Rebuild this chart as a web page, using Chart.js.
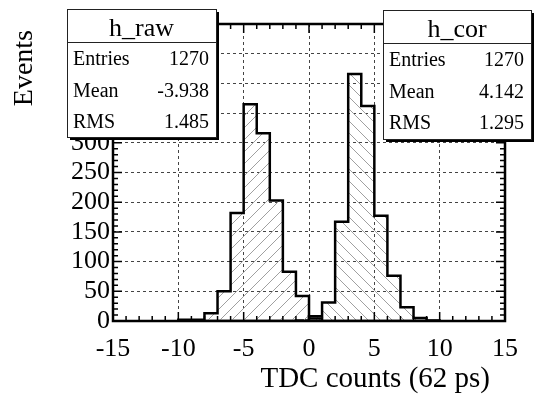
<!DOCTYPE html>
<html>
<head>
<meta charset="utf-8">
<script src="https://cdn.jsdelivr.net/npm/chart.js@4.4.0/dist/chart.umd.min.js"></script>
<style>
  html, body { margin: 0; padding: 0; background: #fff; }
  #c { display: block; }
</style>
</head>
<body>
<canvas id="c" width="534" height="402"></canvas>
<script>
// histogram bins: edges in TDC counts, one more edge than counts
const binEdges = [-10, -9, -8, -7, -6, -5, -4, -3, -2, -1, 0, 1, 2, 3, 4, 5, 6, 7, 8, 9, 10];
const rawCounts = [2, 2, 13, 50, 182, 365, 316, 203, 83, 42, 4, 0, 0, 0, 0, 0, 0, 0, 0, 0];
const corCounts = [0, 0, 0, 0, 0, 0, 0, 0, 0, 1, 8, 31, 167, 416, 362, 177, 76, 23, 5, 1];

const xTicks = [-15, -10, -5, 0, 5, 10, 15];
const yTicks = [0, 50, 100, 150, 200, 250, 300, 350, 400, 450, 500];

// stat boxes
const statLabels = ["Entries", "Mean", "RMS"];
const rawStats = ["1270", "-3.938", "1.485"];
const corStats = ["1270", "4.142", "1.295"];

const SERIF = "'Liberation Serif', 'DejaVu Serif', serif";

const canvas = document.getElementById("c");
const ctx = canvas.getContext("2d");

// outline of a histogram: two points per bin, closed down to zero
function steps(counts) {
  const pts = [{ x: binEdges[0], y: 0 }];
  counts.forEach((c, i) => {
    pts.push({ x: binEdges[i], y: c }, { x: binEdges[i + 1], y: c });
  });
  pts.push({ x: binEdges[binEdges.length - 1], y: 0 });
  return pts;
}

// ROOT-like diagonal hatch
function hatch(up) {
  const s = 12;
  const p = document.createElement("canvas");
  p.width = s; p.height = s;
  const g = p.getContext("2d");
  g.strokeStyle = "#a0a0a0";
  g.lineWidth = 1;
  g.beginPath();
  if (up) {
    g.moveTo(0, s); g.lineTo(s, 0);
    g.moveTo(-1, 1); g.lineTo(1, -1);
    g.moveTo(s - 1, s + 1); g.lineTo(s + 1, s - 1);
  } else {
    g.moveTo(0, 0); g.lineTo(s, s);
    g.moveTo(-1, s - 1); g.lineTo(1, s + 1);
    g.moveTo(s - 1, -1); g.lineTo(s + 1, 1);
  }
  g.stroke();
  return ctx.createPattern(p, "repeat");
}

function statBox(c, x, y, w, h, divY, title, values) {
  c.save();
  c.fillStyle = "#000";
  c.fillRect(x + 3, y + 3, w, h);
  c.fillStyle = "#fff";
  c.fillRect(x, y, w, h);
  c.strokeStyle = "#222";
  c.lineWidth = 1;
  c.strokeRect(x + 0.5, y + 0.5, w, h);
  c.beginPath();
  c.moveTo(x, divY + 0.5); c.lineTo(x + w, divY + 0.5);
  c.stroke();
  c.fillStyle = "#000";
  c.font = "26px " + SERIF;
  c.textAlign = "center";
  c.textBaseline = "alphabetic";
  c.fillText(title, x + w / 2, y + 27);
  c.font = "20px " + SERIF;
  const rows = [y + 56, y + 87.5, y + 119];
  statLabels.forEach((lab, i) => {
    c.textAlign = "left";
    c.fillText(lab, x + 6, rows[i]);
    c.textAlign = "right";
    c.fillText(values[i], x + w - 7, rows[i]);
  });
  c.restore();
}

const rootFrame = {
  id: "rootFrame",
  afterDraw(chart) {
    const c = chart.ctx;
    const a = chart.chartArea;
    const xs = chart.scales.x, ys = chart.scales.y;
    c.save();
    c.strokeStyle = "#000";
    // inner ticks on all four sides
    c.lineWidth = 1.5;
    c.beginPath();
    for (let v = -15; v <= 15; v++) {
      const px = xs.getPixelForValue(v);
      const len = v % 5 === 0 ? 9 : 5;
      c.moveTo(px, a.bottom); c.lineTo(px, a.bottom - len);
      c.moveTo(px, a.top); c.lineTo(px, a.top + len);
    }
    for (let v = 0; v <= 500; v += 10) {
      const py = ys.getPixelForValue(v);
      const len = v % 50 === 0 ? 9 : 5;
      c.moveTo(a.left, py); c.lineTo(a.left + len, py);
      c.moveTo(a.right, py); c.lineTo(a.right - len, py);
    }
    c.stroke();
    // frame
    c.lineWidth = 2.5;
    c.strokeRect(a.left, a.top, a.right - a.left, a.bottom - a.top);
    // axis titles
    c.fillStyle = "#000";
    c.font = "29px " + SERIF;
    c.textAlign = "right";
    c.textBaseline = "alphabetic";
    c.fillText("TDC counts (62 ps)", 490, 387);
    c.font = "28px " + SERIF;
    c.translate(32, 30);
    c.rotate(-Math.PI / 2);
    c.fillText("Events", 0, 0);
    c.restore();
    statBox(c, 67, 9, 149, 128, 42, "h_raw", rawStats);
    statBox(c, 383, 10, 148, 129, 43, "h_cor", corStats);
  }
};

new Chart(ctx, {
  type: "line",
  data: {
    datasets: [
      {
        label: "h_raw",
        data: steps(rawCounts),
        borderColor: "#000",
        borderWidth: 2.5,
        backgroundColor: hatch(true),
        fill: "origin",
        pointRadius: 0,
        tension: 0,
        borderJoinStyle: "miter",
      },
      {
        label: "h_cor",
        data: steps(corCounts),
        borderColor: "#000",
        borderWidth: 2.5,
        backgroundColor: hatch(false),
        fill: "origin",
        pointRadius: 0,
        tension: 0,
        borderJoinStyle: "miter",
      },
    ],
  },
  options: {
    responsive: false,
    animation: false,
    layout: { padding: { top: 24, right: 29, left: 0, bottom: 0 } },
    plugins: {
      legend: { display: false },
      tooltip: { enabled: false },
      title: { display: false },
    },
    scales: {
      x: {
        type: "linear",
        min: -15,
        max: 15,
        afterBuildTicks: (s) => { s.ticks = xTicks.map((v) => ({ value: v })); },
        afterFit: (s) => { s.height = 81; },
        grid: { color: "#444", lineWidth: 1, drawTicks: false },
        border: { display: false, dash: [3, 3] },
        ticks: {
          color: "#000",
          font: { family: SERIF, size: 26 },
          padding: 13,
          maxRotation: 0,
          autoSkip: false,
        },
      },
      y: {
        type: "linear",
        min: 0,
        max: 500,
        afterBuildTicks: (s) => { s.ticks = yTicks.map((v) => ({ value: v })); },
        afterFit: (s) => { s.width = 113; },
        grid: { color: "#444", lineWidth: 1, drawTicks: false },
        border: { display: false, dash: [3, 3] },
        ticks: {
          color: "#000",
          font: { family: SERIF, size: 26 },
          padding: 3,
          autoSkip: false,
        },
      },
    },
  },
  plugins: [rootFrame],
});
</script>
</body>
</html>
